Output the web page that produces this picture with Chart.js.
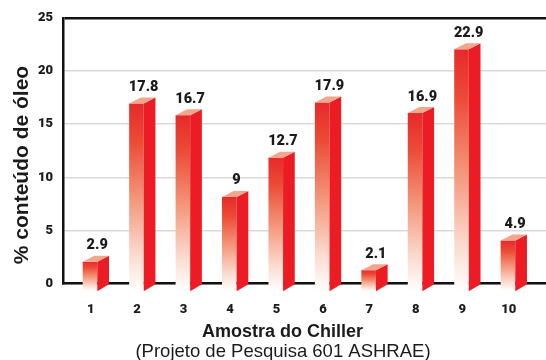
<!DOCTYPE html>
<html lang="pt">
<head>
<meta charset="utf-8">
<title>% conteúdo de óleo por amostra do chiller</title>
<script src="https://cdn.jsdelivr.net/npm/chart.js@4/dist/chart.umd.min.js"></script>
<style>
  html, body { margin: 0; padding: 0; background: #ffffff; }
  #wrap { width: 546px; height: 360px; }
</style>
</head>
<body>
<div id="wrap"><canvas id="chart" width="546" height="360"></canvas></div>
<script>
// Chiller samples and measured oil content (%)
const categories = ['1', '2', '3', '4', '5', '6', '7', '8', '9', '10'];
const oilContent = [2.9, 17.8, 16.7, 9, 12.7, 17.9, 2.1, 16.9, 22.9, 4.9];
const yTicks = [0, 5, 10, 15, 20, 25];

const yTitle = '% conteúdo de óleo';
const xTitle = 'Amostra do Chiller';
const sourceNote = '(Projeto de Pesquisa 601 ASHRAE)';

const TEXT = '#1b1b1b';
const SIDE_RED = '#ed1c24';
const TOP_SALMON = '#f3a68c';
const HEAVY = 'Roboto, "DejaVu Sans", sans-serif';
const tickFont = { family: HEAVY, weight: '900', size: 13 };

// Draws each bar as a small extruded block: gradient front, solid side, lit top.
const blockBars = {
  id: 'blockBars',
  afterDatasetsDraw(chart) {
    const ctx = chart.ctx;
    const meta = chart.getDatasetMeta(0);
    meta.data.forEach((el, i) => {
      const x = el.x, y = el.y, base = el.base;
      const fl = x - 8, fr = x + 6.6, sr = x + 18.3;
      const dy = 6;
      const frontTop = y + 9, backTop = frontTop - dy;
      const frontBottom = base + 8.5, backBottom = base + 1.5;

      ctx.save();
      // front face
      const g = ctx.createLinearGradient(0, frontTop, 0, frontBottom);
      g.addColorStop(0, '#e62a2a');
      g.addColorStop(0.2, '#ec4a36');
      g.addColorStop(0.5, '#f39478');
      g.addColorStop(0.8, '#fbd9cd');
      g.addColorStop(1, '#ffffff');
      ctx.fillStyle = g;
      ctx.fillRect(fl, frontTop, fr - fl, frontBottom - frontTop);

      // side face
      ctx.fillStyle = SIDE_RED;
      ctx.beginPath();
      ctx.moveTo(fr, frontTop);
      ctx.lineTo(sr, backTop);
      ctx.lineTo(sr, backBottom);
      ctx.lineTo(fr, frontBottom);
      ctx.closePath();
      ctx.fill();

      // top face
      ctx.fillStyle = TOP_SALMON;
      ctx.beginPath();
      ctx.moveTo(fl, frontTop);
      ctx.lineTo(fr, frontTop);
      ctx.lineTo(sr, backTop);
      ctx.lineTo(fl + (sr - fr), backTop);
      ctx.closePath();
      ctx.fill();

      // value label
      ctx.fillStyle = TEXT;
      ctx.font = '900 14.5px ' + HEAVY;
      ctx.textAlign = 'center';
      ctx.textBaseline = 'alphabetic';
      ctx.fillText(String(oilContent[i]), x + 6.5, backTop - 6.5);
      ctx.restore();
    });
  }
};

// Axis titles and source note
const titles = {
  id: 'titles',
  afterDraw(chart) {
    const ctx = chart.ctx;
    ctx.save();
    ctx.fillStyle = TEXT;
    ctx.textAlign = 'center';
    ctx.textBaseline = 'alphabetic';
    ctx.font = 'bold 18px "Liberation Sans", Arial, sans-serif';
    ctx.fillText(xTitle, 282.5, 336.5);
    ctx.font = '18.5px "Liberation Sans", Arial, sans-serif';
    ctx.fillText(sourceNote, 283, 357);

    ctx.translate(22, 165);
    ctx.rotate(-Math.PI / 2);
    ctx.textBaseline = 'middle';
    ctx.font = 'bold 21px "Liberation Sans", Arial, sans-serif';
    ctx.fillText(yTitle, 0, 0);
    ctx.restore();
  }
};

new Chart(document.getElementById('chart'), {
  type: 'bar',
  data: {
    datasets: [{
      data: oilContent.map((v, i) => ({ x: i + 1, y: v })),
      backgroundColor: 'rgba(0,0,0,0)',
      borderWidth: 0,
      barThickness: 26
    }]
  },
  options: {
    responsive: false,
    animation: false,
    layout: { padding: { top: 18, left: 0, right: 0, bottom: 0 } },
    plugins: {
      legend: { display: false },
      tooltip: { enabled: false }
    },
    scales: {
      x: {
        type: 'linear',
        offset: false,
        min: 0.4035,
        max: 10.804,
        grid: { display: false, drawTicks: false, offset: false },
        border: { display: true, color: '#111111', width: 2.5 },
        afterBuildTicks(scale) {
          scale.ticks = categories.map((c, i) => ({ value: i + 1 }));
        },
        afterFit(scale) { scale.height = 76.5; },
        ticks: {
          autoSkip: false,
          maxRotation: 0,
          padding: 18,
          color: TEXT,
          font: tickFont,
          callback: (value) => categories[value - 1]
        }
      },
      y: {
        type: 'linear',
        min: yTicks[0],
        max: yTicks[yTicks.length - 1],
        afterBuildTicks(scale) {
          scale.ticks = yTicks.map(v => ({ value: v }));
        },
        afterFit(scale) { scale.width = 63; },
        grid: {
          drawTicks: false,
          color: (c) => (c.tick && c.tick.value === 25 ? '#111111' : '#d9d9d9'),
          lineWidth: (c) => (c.tick && c.tick.value === 25 ? 2.5 : 1.5)
        },
        border: { display: true, color: '#111111', width: 2.5 },
        ticks: {
          padding: 10,
          color: TEXT,
          font: tickFont
        }
      }
    }
  },
  plugins: [blockBars, titles]
});
</script>
</body>
</html>
